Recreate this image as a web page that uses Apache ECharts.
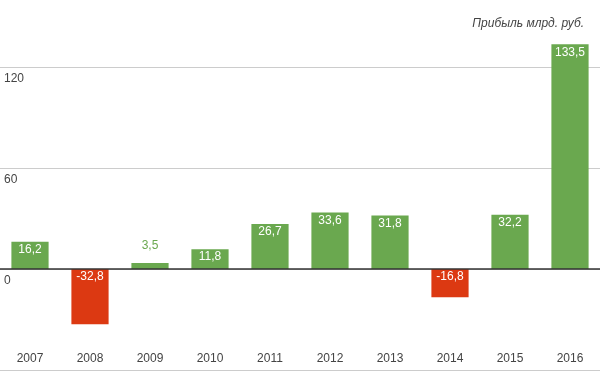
<!DOCTYPE html>
<html><head><meta charset="utf-8">
<script src="https://cdn.jsdelivr.net/npm/echarts@6/dist/echarts.min.js"></script>
<style>html,body{margin:0;padding:0;background:#fff}#c{width:600px;height:371px}</style>
</head><body><div id="c"></div>
<script>
var years = ['2007','2008','2009','2010','2011','2012','2013','2014','2015','2016'];
var profit = [16.2, -32.8, 3.5, 11.8, 26.7, 33.6, 31.8, -16.8, 32.2, 133.5];
var yTicks = [-60, 0, 60, 120];
var titleText = 'Прибыль млрд. руб.';

var GREEN = '#6aa84f', RED = '#dc3912';
var data = profit.map(function (v) {
  var item = { value: v, itemStyle: { color: v < 0 ? RED : GREEN } };
  if (Math.abs(v) < 8) {
    item.label = { position: 'top', distance: 11, color: GREEN };
  }
  return item;
});

var chart = echarts.init(document.getElementById('c'));
chart.setOption({
  animation: false,
  textStyle: { fontFamily: 'Liberation Sans, Arial, sans-serif' },
  title: {
    text: titleText, right: 11, top: 13,
    textStyle: { fontSize: 12, fontStyle: 'italic', fontWeight: 'normal', color: '#444' }
  },
  grid: { left: 0, right: 0, top: 67, bottom: 1, containLabel: false },
  xAxis: {
    type: 'category', data: years,
    axisLine: { show: false, onZero: false }, axisTick: { show: false },
    axisLabel: { color: '#444', fontSize: 12, margin: -17 }
  },
  yAxis: {
    type: 'value', min: yTicks[0], max: yTicks[yTicks.length - 1], interval: 60,
    axisLine: { show: false }, axisTick: { show: false },
    splitLine: { lineStyle: { color: '#cccccc', width: 1 } },
    axisLabel: {
      inside: true, margin: 4, color: '#444', fontSize: 12,
      verticalAlign: 'top', padding: [6, 0, 0, 0],
      formatter: function (v) { return v === yTicks[0] ? '' : String(v); }
    }
  },
  series: [{
    type: 'bar', data: data, barWidth: '62%', clip: false,
    label: {
      show: true, position: 'insideTop', distance: 2,
      color: '#fff', fontSize: 12,
      formatter: function (p) { return String(p.value).replace('.', ','); }
    },
    markLine: {
      silent: true, symbol: 'none', label: { show: false },
      lineStyle: { color: '#333', width: 1.5, type: 'solid' },
      data: [{ yAxis: 0 }]
    }
  }]
});
</script></body></html>
